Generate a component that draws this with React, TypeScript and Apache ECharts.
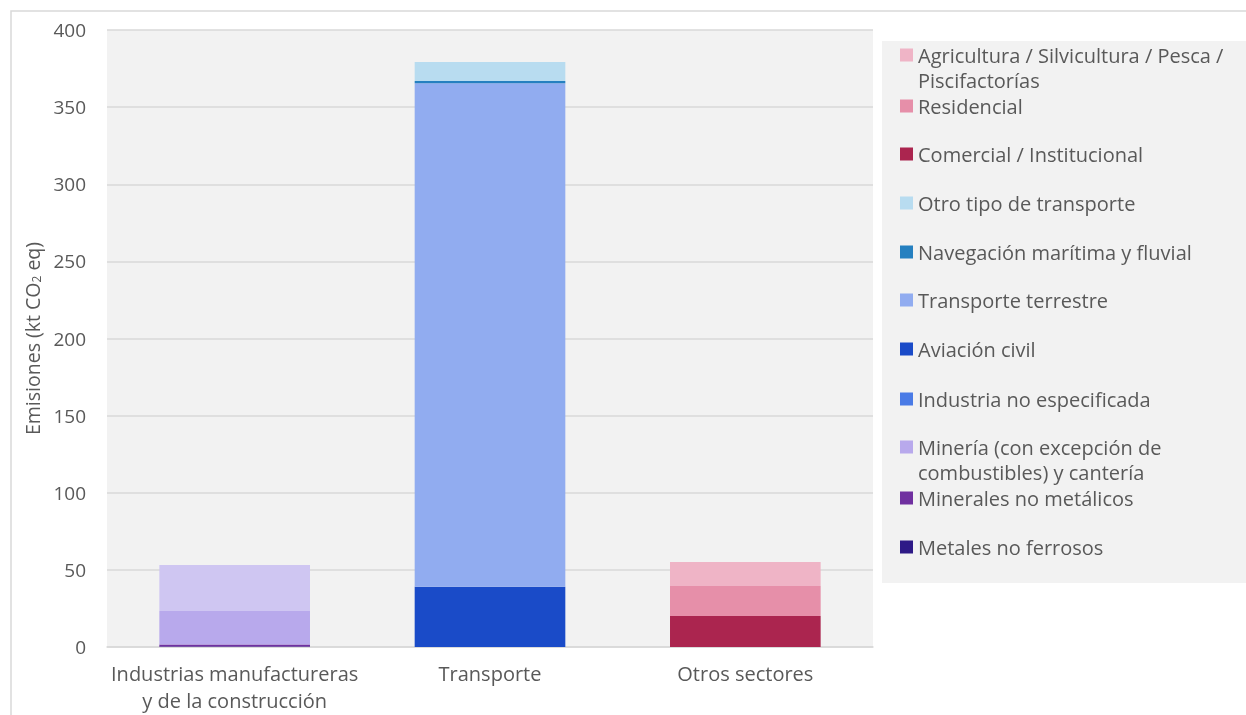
import React, { useEffect, useRef } from "react";
import * as echarts from "echarts";

const categories = ["Industrias manufactureras\ny de la construcción", "Transporte", "Otros sectores"];

// series in stacking order (bottom to top)
const metalesNoFerrosos = [0.4, 0, 0];
const mineralesNoMetalicos = [1.2, 0, 0];
const mineria = [21.8, 0, 0];
const industriaNoEspecificada = [29.8, 0, 0];
const aviacionCivil = [0, 39, 0];
const transporteTerrestre = [0, 326.5, 0];
const navegacion = [0, 1.5, 0];
const otroTransporte = [0, 12.3, 0];
const comercial = [0, 0, 20.1];
const residencial = [0, 0, 19.4];
const agricultura = [0, 0, 15.6];

const yTicks = { min: 0, max: 400, interval: 50 };

const seriesDefs = [
  { name: "Metales no ferrosos", data: metalesNoFerrosos, color: "#2e1a87" },
  { name: "Minerales no metálicos", data: mineralesNoMetalicos, color: "#7030a0" },
  { name: "Minería (con excepción de combustibles) y cantería", data: mineria, color: "#b8a9ec" },
  { name: "Industria no especificada", data: industriaNoEspecificada, color: "#4a7be6", pointColor: "#cfc6f2" },
  { name: "Aviación civil", data: aviacionCivil, color: "#1a4bc8" },
  { name: "Transporte terrestre", data: transporteTerrestre, color: "#91acf0" },
  { name: "Navegación marítima y fluvial", data: navegacion, color: "#2580c0" },
  { name: "Otro tipo de transporte", data: otroTransporte, color: "#b8dcf0" },
  { name: "Comercial / Institucional", data: comercial, color: "#ab254f" },
  { name: "Residencial", data: residencial, color: "#e68fa9" },
  { name: "Agricultura / Silvicultura / Pesca / Piscifactorías", data: agricultura, color: "#efb4c6" },
];

const legendLabels: Record<string, string> = {
  "Agricultura / Silvicultura / Pesca / Piscifactorías": "Agricultura / Silvicultura / Pesca /\nPiscifactorías",
  "Minería (con excepción de combustibles) y cantería": "Minería (con excepción de\ncombustibles) y cantería",
};

const FONT = "'Open Sans', 'Noto Sans', sans-serif";
const TEXT = "#595959";

export default function App() {
  const ref = useRef<HTMLDivElement>(null);
  useEffect(() => {
    if (!ref.current) return;
    const chart = echarts.init(ref.current, undefined, { renderer: "svg" });

    const LH = 25;
    const legendOrder = [...seriesDefs].reverse();
    const centers = [55, 106, 154, 203, 252, 300, 349, 399, 447, 498, 547];
    const legends = legendOrder.map((s, i) => {
      const twoLine = !!legendLabels[s.name];
      return {
        orient: "vertical",
        left: 900,
        top: centers[i] - (twoLine ? LH * 1.5 : LH / 2),
        padding: 0,
        itemWidth: 13,
        itemHeight: 13,
        icon: "rect",
        selectedMode: false,
        formatter: (n: string) => (legendLabels[n] ? " \n" + legendLabels[n] : n),
        textStyle: {
          fontFamily: FONT,
          fontSize: 20,
          color: TEXT,
          lineHeight: LH,
        },
        data: [s.name],
      };
    });

    chart.setOption({
      animation: false,
      textStyle: { fontFamily: FONT },
      graphic: [
        {
          type: "rect",
          z: -10,
          shape: { x: 11, y: 11, width: 1300, height: 800 },
          style: { fill: "none", stroke: "#d9d9d9", lineWidth: 1.5 },
        },
        {
          type: "rect",
          z: -10,
          shape: { x: 882, y: 41, width: 400, height: 542 },
          style: { fill: "#f2f2f2" },
        },
      ],
      legend: legends,
      grid: {
        left: 107,
        right: 373,
        top: 30,
        bottom: 68,
        show: true,
        backgroundColor: "#f2f2f2",
        borderWidth: 0,
      },
      xAxis: {
        type: "category",
        data: categories,
        axisLine: { lineStyle: { color: "#d9d9d9", width: 1.5 } },
        axisTick: { show: false },
        axisLabel: {
          fontFamily: FONT,
          fontSize: 20,
          color: TEXT,
          lineHeight: 27,
          margin: 13,
          interval: 0,
        },
      },
      yAxis: {
        type: "value",
        min: yTicks.min,
        max: yTicks.max,
        interval: yTicks.interval,
        axisLine: { show: false },
        axisTick: { show: false },
        splitLine: { lineStyle: { color: "#d9d9d9", width: 1.5 } },
        axisLabel: { fontFamily: FONT, fontSize: 19, color: TEXT, margin: 21 },
        name: "{a|Emisiones (kt CO}{s|2}{a| eq)}",
        nameLocation: "middle",
        nameGap: 62,
        nameRotate: 90,
        nameTextStyle: {
          rich: {
            a: { fontFamily: FONT, fontSize: 19.5, color: TEXT },
            s: { fontFamily: FONT, fontSize: 12, color: TEXT, verticalAlign: "bottom", padding: [8, 0, 0, 0] },
          },
        },
      },
      series: seriesDefs.map((s) => ({
        name: s.name,
        type: "bar",
        stack: "total",
        barWidth: "59%",
        itemStyle: { color: s.color },
        emphasis: { disabled: true },
        data: s.data.map((v, i) =>
          s.pointColor && i === 0 ? { value: v, itemStyle: { color: s.pointColor } } : v
        ),
      })),
    });
    return () => chart.dispose();
  }, []);
  return (
    <div
      ref={ref}
      style={{ position: "fixed", left: 0, top: 0, width: 1246, height: 715 }}
    />
  );
}
